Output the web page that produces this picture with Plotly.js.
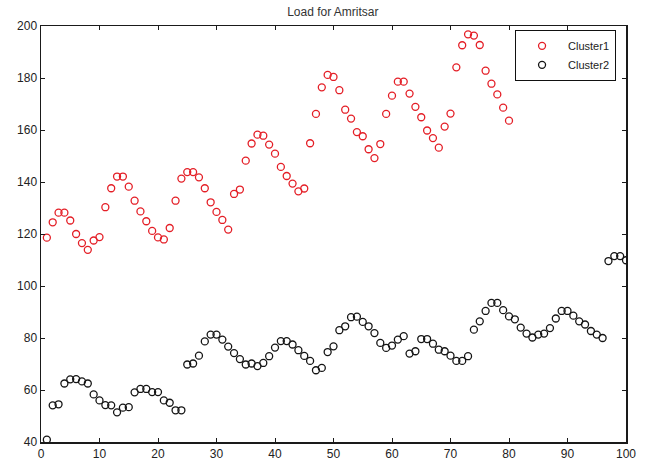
<!DOCTYPE html>
<html>
<head>
<meta charset="utf-8">
<script src="https://cdn.plot.ly/plotly-3.0.1.min.js"></script>
<style>html,body{margin:0;padding:0;background:#fff;}#chart{width:645px;height:462px;}</style>
</head>
<body>
<div id="chart"></div>
<script>
const titleText = "Load for Amritsar";
const seriesNames = ["Cluster1", "Cluster2"];
const xTickVals = [0,10,20,30,40,50,60,70,80,90,100];
const yTickVals = [40,60,80,100,120,140,160,180,200];

const cluster1X = [1,2,3,4,5,6,7,8,9,10,11,12,13,14,15,16,17,18,19,20,21,22,23,24,25,26,27,28,29,30,31,32,33,34,35,36,37,38,39,40,41,42,43,44,45,46,47,48,49,50,51,52,53,54,55,56,57,58,59,60,61,62,63,64,65,66,67,68,69,70,71,72,73,74,75,76,77,78,79,80];
const cluster1Y = [118.6,124.5,128.2,128.2,125.2,120.0,116.5,113.9,117.5,118.8,
  130.3,137.6,142.1,142.1,138.2,132.8,128.7,124.9,121.2,118.7,
  117.9,122.3,132.8,141.3,143.8,143.8,141.8,137.6,132.2,128.5,
  125.4,121.7,135.4,137.1,148.2,154.8,158.2,157.8,154.4,150.9,
  145.8,142.3,139.4,136.4,137.5,154.9,166.2,176.4,181.2,180.4,
  175.3,167.8,164.4,159.2,157.6,152.6,149.2,154.6,166.2,173.2,
  178.6,178.6,174.0,168.9,164.9,159.8,156.9,153.2,161.3,166.3,
  184.1,192.6,196.8,196.3,192.7,182.8,177.8,173.7,168.6,163.6];

const cluster2X = [1,2,3,4,5,6,7,8,9,10,11,12,13,14,15,16,17,18,19,20,21,22,23,24,25,26,27,28,29,30,31,32,33,34,35,36,37,38,39,40,41,42,43,44,45,46,47,48,49,50,51,52,53,54,55,56,57,58,59,60,61,62,63,64,65,66,67,68,69,70,71,72,73,74,75,76,77,78,79,80,81,82,83,84,85,86,87,88,89,90,91,92,93,94,95,96,97,98,99,100];
const cluster2Y = [40.9,54.1,54.5,62.5,64.1,64.2,63.3,62.5,58.3,56.0,
  54.2,54.1,51.4,53.2,53.4,59.1,60.4,60.4,59.2,59.2,
  56.0,55.1,52.2,52.2,69.8,70.2,73.2,78.7,81.3,81.3,
  79.4,76.7,74.2,71.9,69.8,70.2,69.2,70.4,73.0,76.3,
  78.8,78.8,77.5,75.3,73.1,71.2,67.6,68.5,74.6,76.8,
  83.0,84.5,88.0,88.2,86.2,84.5,81.9,78.1,76.2,77.1,
  79.4,80.7,74.0,74.9,79.6,79.6,77.8,75.5,74.9,73.2,
  71.2,71.2,73.0,83.2,86.4,90.4,93.5,93.5,90.7,88.3,
  87.2,84.0,81.7,80.2,81.3,81.7,83.8,87.5,90.4,90.4,
  88.6,86.4,85.2,82.7,81.3,80.0,109.6,111.5,111.5,109.9];

const FONT = "Liberation Sans, Arial, Helvetica, sans-serif";

const traces = [
  {x: cluster1X, y: cluster1Y, name: seriesNames[0], type: "scatter", mode: "markers",
   marker: {symbol: "circle-open", size: 7, color: "rgb(228,30,38)", line: {width: 1.3}}},
  {x: cluster2X, y: cluster2Y, name: seriesNames[1], type: "scatter", mode: "markers",
   marker: {symbol: "circle-open", size: 7, color: "rgb(20,20,20)", line: {width: 1.3}}}
];

const axisCommon = {
  showline: true, mirror: "ticks", linecolor: "#1a1a1a", linewidth: 1.5,
  ticks: "inside", ticklen: 4, tickcolor: "#1a1a1a", tickwidth: 1,
  showgrid: false, zeroline: false,
  tickfont: {family: FONT, size: 12, color: "#222"}
};

const layout = {
  width: 645, height: 462,
  margin: {l: 41, r: 19, t: 26, b: 20, pad: 0},
  paper_bgcolor: "#fff", plot_bgcolor: "#fff",
  font: {family: FONT, size: 12, color: "#222"},
  title: {text: titleText, font: {family: FONT, size: 12, color: "#333"},
          x: 0.516, xanchor: "center", y: 0.974, yanchor: "middle", yref: "container"},
  xaxis: Object.assign({}, axisCommon, {range: [0, 100], tickvals: xTickVals}),
  yaxis: Object.assign({}, axisCommon, {range: [40, 200], tickvals: yTickVals}),
  showlegend: true,
  legend: {x: 0.81, y: 0.99, xanchor: "left", yanchor: "top",
           bgcolor: "#fff", bordercolor: "#111", borderwidth: 1.2,
           font: {family: FONT, size: 11, color: "#222"},
           tracegroupgap: 0, itemwidth: 42}
};

Plotly.newPlot("chart", traces, layout, {displayModeBar: false, staticPlot: true});
</script>
</body>
</html>
